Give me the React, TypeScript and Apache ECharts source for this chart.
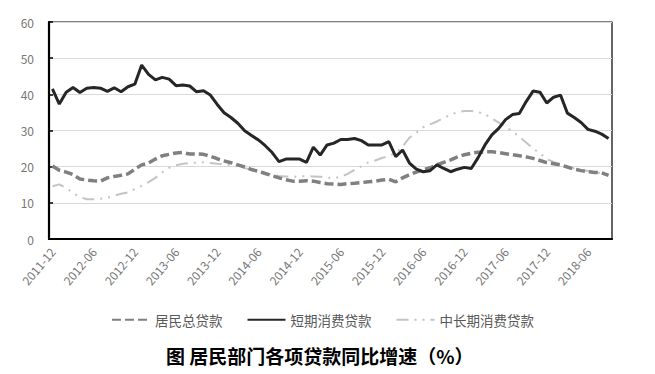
import React, { useEffect, useRef } from "react";
import * as echarts from "echarts";

const startYear = 2011;
const startMonth = 12;
const monthCount = 82;
const categories: string[] = [];
for (let k = 0; k < monthCount; k++) {
  const m = startMonth - 1 + k;
  const y = startYear + Math.floor(m / 12);
  const mm = (m % 12) + 1;
  categories.push(`${y}-${mm < 10 ? "0" + mm : mm}`);
}

const seriesNames = ["居民总贷款", "短期消费贷款", "中长期消费贷款"];

const totalLoans = [
  20.2, 19.0, 18.5, 17.8, 16.6, 16.3, 16.1, 16.0, 16.9, 17.3, 17.6, 18.0,
  19.3, 20.5, 21.0, 22.1, 23.0, 23.4, 23.8, 23.9, 23.5, 23.5, 23.4, 22.9,
  22.2, 21.6, 21.1, 20.5, 19.9, 19.2, 18.7, 18.1, 17.5, 16.9, 16.4, 16.0,
  16.0, 16.1, 16.0, 15.6, 15.3, 15.2, 15.1, 15.3, 15.4, 15.6, 15.8, 16.0,
  16.3, 16.5, 15.8, 16.9, 17.8, 18.5, 19.2, 19.7, 20.5, 21.2, 21.9, 22.7,
  23.3, 23.7, 24.0, 24.1, 24.1, 23.9, 23.6, 23.3, 23.0, 22.7, 22.3, 21.7,
  21.1, 20.8, 20.5, 19.9, 19.3, 18.9, 18.6, 18.4, 18.3, 17.6,
];

const shortTerm = [
  41.5, 37.3, 40.6, 41.9, 40.5, 41.7, 41.9, 41.7, 40.8, 41.8, 40.7, 42.1,
  42.8, 48.1, 45.5, 44.0, 44.7, 44.2, 42.4, 42.6, 42.3, 40.7, 41.0, 39.8,
  37.2, 34.9, 33.6, 32.0, 29.9, 28.6, 27.4, 25.8, 23.9, 21.4, 22.1, 22.1,
  22.1, 21.2, 25.4, 23.2, 26.0, 26.5, 27.5, 27.5, 27.8, 27.2, 26.0, 26.0,
  26.0, 26.9, 22.8, 24.6, 21.0, 19.3, 18.6, 18.9, 20.5, 19.5, 18.6, 19.3,
  19.8, 19.5, 22.5, 26.0, 28.8, 30.6, 33.0, 34.4, 34.7, 38.0, 40.9, 40.6,
  37.6, 39.2, 39.8, 34.8, 33.6, 32.2, 30.3, 29.8, 29.0, 27.8,
];

const longTerm = [
  14.6, 15.1, 14.1, 12.7, 11.6, 11.0, 11.0, 11.1, 11.4, 12.0, 12.5, 12.9,
  13.8, 14.7, 15.7, 16.9, 18.4, 19.7, 20.4, 20.8, 21.0, 21.1, 21.2, 21.0,
  20.8, 20.7, 20.4, 20.1, 19.6, 19.1, 18.7, 18.2, 17.8, 17.4, 17.3, 17.2,
  17.3, 17.4, 17.3, 17.2, 17.0, 16.8, 17.2, 18.0, 19.1, 20.1, 21.2, 21.7,
  22.4, 23.0, 23.8, 25.6, 28.0, 29.4, 30.9, 31.7, 32.5, 33.5, 34.3, 35.1,
  35.4, 35.4, 35.1, 34.5, 33.3, 32.2, 30.9, 29.8, 28.3, 26.7, 25.0, 23.7,
  22.1, 21.3, 20.6, 20.0, 19.5, 19.1, 18.8, 18.5, 18.2, 17.7,
];

const yTicks = { min: 0, max: 60, interval: 10 };
const chartTitle = "图 居民部门各项贷款同比增速（%）";

const FONT = "'Noto Sans CJK SC', 'Noto Sans', sans-serif";

export default function App() {
  const ref = useRef<HTMLDivElement>(null);
  useEffect(() => {
    if (!ref.current) return;
    const chart = echarts.init(ref.current, null, { renderer: "svg" });
    chart.setOption({
      animation: false,
      backgroundColor: "#fff",
      textStyle: { fontFamily: FONT },
      title: {
        text: chartTitle,
        left: 161,
        top: 341,
        textStyle: { fontSize: 19, fontWeight: "bold", color: "#000", fontFamily: FONT },
      },
      legend: {
        top: 308,
        left: 106,
        itemWidth: 38,
        itemHeight: 12,
        itemGap: 24,
        itemStyle: { color: "transparent", borderColor: "transparent", borderWidth: 0, opacity: 0 },
        textStyle: { fontSize: 13.5, color: "#595959", fontFamily: FONT },
        data: seriesNames,
      },
      grid: {
        left: 49,
        right: 43,
        top: 22,
        bottom: 135,
        show: true,
        borderColor: "#000",
        borderWidth: 1.2,
      },
      xAxis: {
        type: "category",
        data: categories,
        boundaryGap: true,
        axisLine: { lineStyle: { color: "#000", width: 2.2 } },
        axisTick: { inside: true, length: 5, interval: 5, lineStyle: { color: "#000", width: 2 } },
        axisLabel: {
          interval: 5,
          rotate: 50,
          margin: 10,
          fontSize: 12,
          color: "#777",
          fontFamily: FONT,
        },
        splitLine: { show: false },
      },
      yAxis: {
        type: "value",
        min: yTicks.min,
        max: yTicks.max,
        interval: yTicks.interval,
        axisLine: { show: true, lineStyle: { color: "#000", width: 2.2 } },
        axisTick: { show: true, inside: true, length: 4, lineStyle: { color: "#000", width: 1.5 } },
        axisLabel: { fontSize: 12, color: "#777", margin: 15, fontFamily: FONT },
        splitLine: { lineStyle: { color: "#d9d9d9", width: 1 } },
      },
      series: [
        {
          name: seriesNames[0],
          type: "line",
          data: totalLoans,
          symbol: "none",
          lineStyle: { color: "#808080", width: 3.5, type: [9, 4] },
          itemStyle: { color: "#808080" },
          z: 3,
        },
        {
          name: seriesNames[1],
          type: "line",
          data: shortTerm,
          symbol: "none",
          lineStyle: { color: "#262626", width: 3, type: "solid" },
          itemStyle: { color: "#262626" },
          z: 4,
        },
        {
          name: seriesNames[2],
          type: "line",
          data: longTerm,
          symbol: "none",
          lineStyle: { color: "#c4c4c4", width: 2, type: [12, 6, 2, 6, 2, 6] },
          itemStyle: { color: "#c4c4c4" },
          z: 2,
        },
      ],
    });
    return () => chart.dispose();
  }, []);
  return <div ref={ref} style={{ width: 655, height: 374, margin: -8 }} />;
}
